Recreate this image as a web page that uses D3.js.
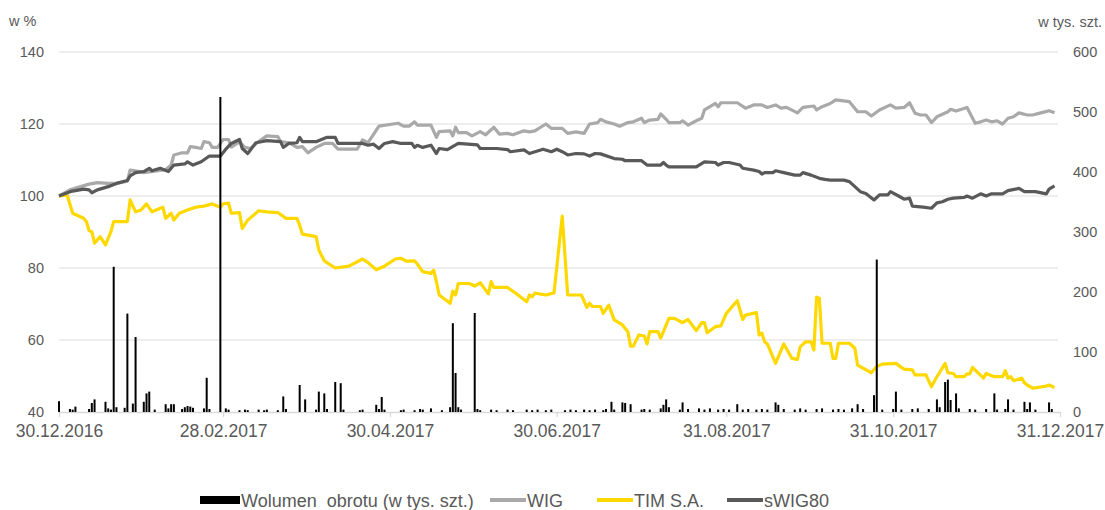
<!DOCTYPE html>
<html><head><meta charset="utf-8">
<script src="https://cdn.jsdelivr.net/npm/d3@7"></script>
<style>
html,body{margin:0;padding:0;background:#fff;}
text{font-family:"Liberation Sans",Arial,sans-serif;fill:#595959;}
</style></head>
<body><svg id="c" width="1105" height="510"></svg>
<script>
const leftTicks = [40,60,80,100,120,140];
const rightTicks = [0,100,200,300,400,500,600];
const xTickLabels = ["30.12.2016","28.02.2017","30.04.2017","30.06.2017","31.08.2017","31.10.2017","31.12.2017"];
const seriesNames = ["Wolumen  obrotu (w tys. szt.)","WIG","TIM S.A.","sWIG80"];

const timData = [["2016-12-30",100],["2017-01-02",100.2],["2017-01-04",95.2],["2017-01-08",93.8],["2017-01-09",92.9],["2017-01-10",90.4],["2017-01-11",90.1],["2017-01-12",86.9],["2017-01-14",88.7],["2017-01-16",86.4],["2017-01-18",90.1],["2017-01-19",92.9],["2017-01-24",92.9],["2017-01-25",98.9],["2017-01-27",95.6],["2017-01-29",96.1],["2017-01-31",97.8],["2017-02-02",95.6],["2017-02-06",96.9],["2017-02-07",93.8],["2017-02-09",95.2],["2017-02-10",93.3],["2017-02-12",95.2],["2017-02-15",96.1],["2017-02-18",96.9],["2017-02-21",97.2],["2017-02-24",97.8],["2017-02-27",96.9],["2017-02-28",97.8],["2017-03-02",98.0],["2017-03-03",95.2],["2017-03-06",95.4],["2017-03-07",91.0],["2017-03-09",93.3],["2017-03-13",95.9],["2017-03-16",95.6],["2017-03-20",95.4],["2017-03-23",93.8],["2017-03-27",93.8],["2017-03-28",91.9],["2017-03-29",89.4],["2017-04-03",88.7],["2017-04-04",85.0],["2017-04-06",82.0],["2017-04-10",80.0],["2017-04-15",80.5],["2017-04-20",82.5],["2017-04-22",81.5],["2017-04-25",79.5],["2017-04-28",80.5],["2017-05-02",82.5],["2017-05-04",82.7],["2017-05-06",81.9],["2017-05-09",82.0],["2017-05-10",81.1],["2017-05-12",79.0],["2017-05-15",78.5],["2017-05-16",79.4],["2017-05-17",76.2],["2017-05-18",72.5],["2017-05-22",70.2],["2017-05-23",73.6],["2017-05-24",72.5],["2017-05-25",75.7],["2017-05-29",75.7],["2017-05-31",75.0],["2017-06-02",75.9],["2017-06-05",72.8],["2017-06-06",76.2],["2017-06-07",74.6],["2017-06-12",74.6],["2017-06-15",73.0],["2017-06-19",70.6],["2017-06-20",72.5],["2017-06-21",72.0],["2017-06-22",73.0],["2017-06-26",72.5],["2017-06-29",73.1],["2017-07-02",94.4],["2017-07-04",72.5],["2017-07-09",72.5],["2017-07-11",69.1],["2017-07-12",70.2],["2017-07-13",69.3],["2017-07-16",69.3],["2017-07-17",67.4],["2017-07-19",69.7],["2017-07-21",65.6],["2017-07-24",64.2],["2017-07-26",62.3],["2017-07-27",58.3],["2017-07-28",58.3],["2017-07-30",61.4],["2017-08-01",61.1],["2017-08-02",58.9],["2017-08-03",62.3],["2017-08-06",62.3],["2017-08-07",60.5],["2017-08-10",66.0],["2017-08-12",66.0],["2017-08-15",64.8],["2017-08-17",65.7],["2017-08-20",62.6],["2017-08-22",64.8],["2017-08-23",64.8],["2017-08-24",62.0],["2017-08-27",63.7],["2017-08-29",63.9],["2017-08-31",67.4],["2017-09-04",70.9],["2017-09-06",65.7],["2017-09-07",66.9],["2017-09-11",67.6],["2017-09-12",61.4],["2017-09-13",61.9],["2017-09-14",59.5],["2017-09-15",58.9],["2017-09-18",53.5],["2017-09-21",58.9],["2017-09-24",54.9],["2017-09-26",54.6],["2017-09-27",58.1],["2017-09-29",59.5],["2017-10-01",59.5],["2017-10-02",57.2],["2017-10-03",71.9],["2017-10-04",71.6],["2017-10-05",59.1],["2017-10-08",59.1],["2017-10-09",54.9],["2017-10-10",54.9],["2017-10-11",59.1],["2017-10-15",59.1],["2017-10-17",57.7],["2017-10-18",53.0],["2017-10-23",50.9],["2017-10-25",52.6],["2017-10-27",53.3],["2017-11-01",53.5],["2017-11-03",52.4],["2017-11-04",51.9],["2017-11-07",51.7],["2017-11-08",50.3],["2017-11-12",50.3],["2017-11-14",47.0],["2017-11-16",49.8],["2017-11-19",53.5],["2017-11-20",50.9],["2017-11-22",50.7],["2017-11-23",49.8],["2017-11-26",49.8],["2017-11-27",50.6],["2017-11-28",50.6],["2017-11-29",52.4],["2017-12-03",49.4],["2017-12-04",50.7],["2017-12-07",49.8],["2017-12-10",49.8],["2017-12-11",51.5],["2017-12-12",49.4],["2017-12-13",49.8],["2017-12-14",48.7],["2017-12-17",49.4],["2017-12-18",48.1],["2017-12-19",47.5],["2017-12-21",46.6],["2017-12-26",47.2],["2017-12-27",47.5],["2017-12-29",46.8]];

const wigData = [["2016-12-30",100],["2017-01-03",101.7],["2017-01-10",103.3],["2017-01-13",103.7],["2017-01-17",103.5],["2017-01-20",103.5],["2017-01-24",104.1],["2017-01-25",107.2],["2017-01-27",107.0],["2017-01-30",106.5],["2017-02-07",107.3],["2017-02-09",108.6],["2017-02-10",111.4],["2017-02-13",112.0],["2017-02-15",112.0],["2017-02-16",113.7],["2017-02-18",113.5],["2017-02-20",113.2],["2017-02-21",115.1],["2017-02-23",114.8],["2017-02-24",113.5],["2017-02-26",113.5],["2017-02-28",115.7],["2017-03-02",115.7],["2017-03-03",113.6],["2017-03-06",115.0],["2017-03-08",113.5],["2017-03-10",113.2],["2017-03-13",115.1],["2017-03-16",116.7],["2017-03-20",116.5],["2017-03-21",115.1],["2017-03-24",114.8],["2017-03-27",113.5],["2017-03-29",113.7],["2017-03-31",112.0],["2017-04-03",113.5],["2017-04-06",114.6],["2017-04-09",114.6],["2017-04-11",113.0],["2017-04-18",113.0],["2017-04-20",115.6],["2017-04-22",114.8],["2017-04-26",119.4],["2017-05-03",120.2],["2017-05-05",119.4],["2017-05-07",119.4],["2017-05-09",120.6],["2017-05-10",119.7],["2017-05-15",119.7],["2017-05-17",116.3],["2017-05-18",117.9],["2017-05-22",118.1],["2017-05-23",116.7],["2017-05-24",119.1],["2017-05-25",117.6],["2017-05-28",117.6],["2017-05-30",116.7],["2017-06-02",117.9],["2017-06-04",117.0],["2017-06-07",119.1],["2017-06-09",117.2],["2017-06-12",117.4],["2017-06-14",117.0],["2017-06-18",118.1],["2017-06-20",117.8],["2017-06-22",118.1],["2017-06-26",120.0],["2017-06-28",118.8],["2017-07-02",118.8],["2017-07-04",117.4],["2017-07-07",117.8],["2017-07-10",117.4],["2017-07-12",120.0],["2017-07-15",120.4],["2017-07-16",121.3],["2017-07-18",120.6],["2017-07-21",120.0],["2017-07-23",119.4],["2017-07-26",120.4],["2017-07-28",120.6],["2017-07-31",121.6],["2017-08-01",120.4],["2017-08-03",121.1],["2017-08-06",121.3],["2017-08-07",122.8],["2017-08-09",121.3],["2017-08-10",120.4],["2017-08-14",120.4],["2017-08-15",120.9],["2017-08-17",119.7],["2017-08-20",120.9],["2017-08-22",121.6],["2017-08-23",123.9],["2017-08-27",125.7],["2017-08-28",124.8],["2017-08-29",125.9],["2017-09-04",125.9],["2017-09-07",124.4],["2017-09-10",125.3],["2017-09-13",125.3],["2017-09-15",124.6],["2017-09-18",125.3],["2017-09-20",124.4],["2017-09-22",124.6],["2017-09-26",123.1],["2017-09-28",124.6],["2017-10-02",125.0],["2017-10-03",123.9],["2017-10-05",124.8],["2017-10-08",125.7],["2017-10-10",126.7],["2017-10-15",126.2],["2017-10-18",123.4],["2017-10-21",123.4],["2017-10-23",122.2],["2017-10-26",123.9],["2017-10-30",125.3],["2017-11-01",124.4],["2017-11-04",124.6],["2017-11-06",125.9],["2017-11-08",123.0],["2017-11-10",122.5],["2017-11-12",122.5],["2017-11-14",120.4],["2017-11-16",122.0],["2017-11-20",123.4],["2017-11-21",124.1],["2017-11-23",123.6],["2017-11-27",124.6],["2017-11-30",120.2],["2017-12-02",120.6],["2017-12-04",121.1],["2017-12-06",120.6],["2017-12-08",120.9],["2017-12-10",120.0],["2017-12-12",121.6],["2017-12-14",122.0],["2017-12-16",123.1],["2017-12-19",122.5],["2017-12-21",122.5],["2017-12-24",123.1],["2017-12-27",123.7],["2017-12-29",123.1]];

const swigData = [["2016-12-30",100],["2017-01-03",101.2],["2017-01-08",101.9],["2017-01-10",101.7],["2017-01-11",100.9],["2017-01-13",101.7],["2017-01-17",102.6],["2017-01-20",103.5],["2017-01-24",104.3],["2017-01-25",105.6],["2017-01-27",106.5],["2017-01-30",106.8],["2017-02-01",107.7],["2017-02-02",107.0],["2017-02-05",107.7],["2017-02-08",106.8],["2017-02-10",108.6],["2017-02-14",108.9],["2017-02-15",109.5],["2017-02-17",108.6],["2017-02-20",109.5],["2017-02-23",111.1],["2017-02-27",111.1],["2017-03-01",113.0],["2017-03-03",114.6],["2017-03-06",115.7],["2017-03-07",113.2],["2017-03-09",111.8],["2017-03-12",114.8],["2017-03-16",115.4],["2017-03-21",115.1],["2017-03-22",113.5],["2017-03-24",114.6],["2017-03-27",114.8],["2017-03-28",116.3],["2017-03-29",115.1],["2017-04-03",115.1],["2017-04-07",116.3],["2017-04-10",116.3],["2017-04-11",114.6],["2017-04-20",114.6],["2017-04-22",114.1],["2017-04-24",114.4],["2017-04-26",113.2],["2017-04-28",114.6],["2017-05-01",115.1],["2017-05-04",114.6],["2017-05-08",114.6],["2017-05-09",113.5],["2017-05-10",114.1],["2017-05-12",113.5],["2017-05-15",114.1],["2017-05-17",111.8],["2017-05-18",113.2],["2017-05-21",112.9],["2017-05-25",114.6],["2017-06-01",114.2],["2017-06-02",113.2],["2017-06-08",113.2],["2017-06-12",112.9],["2017-06-13",112.3],["2017-06-18",112.8],["2017-06-20",111.8],["2017-06-25",113.0],["2017-06-28",112.3],["2017-06-30",113.0],["2017-07-02",112.3],["2017-07-04",111.4],["2017-07-07",111.8],["2017-07-10",111.7],["2017-07-12",111.1],["2017-07-14",111.8],["2017-07-16",111.7],["2017-07-21",110.4],["2017-07-24",110.2],["2017-07-25",109.8],["2017-07-28",109.8],["2017-07-31",109.8],["2017-08-02",108.6],["2017-08-07",108.6],["2017-08-08",109.3],["2017-08-09",108.6],["2017-08-10",108.1],["2017-08-20",108.1],["2017-08-23",109.5],["2017-08-27",109.3],["2017-08-28",108.6],["2017-08-30",109.3],["2017-09-01",109.3],["2017-09-05",108.6],["2017-09-06",107.7],["2017-09-10",107.2],["2017-09-12",106.8],["2017-09-13",106.1],["2017-09-14",106.5],["2017-09-17",106.5],["2017-09-18",107.0],["2017-09-21",106.5],["2017-09-25",105.8],["2017-09-27",105.8],["2017-09-28",106.5],["2017-10-01",105.8],["2017-10-04",104.9],["2017-10-06",104.6],["2017-10-08",104.4],["2017-10-13",104.4],["2017-10-15",104.0],["2017-10-17",102.6],["2017-10-19",101.2],["2017-10-21",100.7],["2017-10-24",98.9],["2017-10-26",100.3],["2017-10-29",100.3],["2017-10-30",101.2],["2017-11-02",100.0],["2017-11-04",99.1],["2017-11-06",99.4],["2017-11-07",97.2],["2017-11-11",96.9],["2017-11-14",96.6],["2017-11-16",98.1],["2017-11-18",98.4],["2017-11-20",99.1],["2017-11-22",99.4],["2017-11-26",99.6],["2017-11-27",100.0],["2017-11-29",99.4],["2017-12-02",100.6],["2017-12-04",100.0],["2017-12-06",100.6],["2017-12-10",100.6],["2017-12-12",101.5],["2017-12-16",102.1],["2017-12-18",101.2],["2017-12-22",101.2],["2017-12-26",100.6],["2017-12-27",101.9],["2017-12-29",102.8]];

const volumeData = [["2016-12-30",18],["2017-01-03",5],["2017-01-04",4],["2017-01-05",9],["2017-01-10",5],["2017-01-11",15],["2017-01-12",21],["2017-01-16",17],["2017-01-17",6],["2017-01-18",4],["2017-01-19",242],["2017-01-20",8],["2017-01-23",7],["2017-01-24",164],["2017-01-26",14],["2017-01-27",125],["2017-01-30",17],["2017-01-31",31],["2017-02-01",34],["2017-02-03",4],["2017-02-07",13],["2017-02-08",6],["2017-02-09",13],["2017-02-10",13],["2017-02-13",5],["2017-02-14",8],["2017-02-15",10],["2017-02-16",9],["2017-02-17",7],["2017-02-21",6],["2017-02-22",57],["2017-02-23",5],["2017-02-27",525],["2017-03-01",6],["2017-03-02",4],["2017-03-06",3],["2017-03-08",4],["2017-03-09",3],["2017-03-13",4],["2017-03-15",3],["2017-03-16",4],["2017-03-20",3],["2017-03-22",26],["2017-03-23",5],["2017-03-28",45],["2017-03-30",21],["2017-04-03",4],["2017-04-04",34],["2017-04-06",31],["2017-04-07",5],["2017-04-10",50],["2017-04-12",48],["2017-04-13",4],["2017-04-19",3],["2017-04-20",4],["2017-04-25",12],["2017-04-26",5],["2017-04-27",25],["2017-04-28",4],["2017-05-04",3],["2017-05-05",4],["2017-05-09",3],["2017-05-11",5],["2017-05-12",4],["2017-05-15",6],["2017-05-19",3],["2017-05-22",8],["2017-05-23",148],["2017-05-24",65],["2017-05-25",8],["2017-05-26",4],["2017-05-31",165],["2017-06-01",5],["2017-06-02",3],["2017-06-06",4],["2017-06-08",3],["2017-06-12",4],["2017-06-14",3],["2017-06-19",4],["2017-06-21",3],["2017-06-23",4],["2017-06-26",3],["2017-06-28",4],["2017-07-03",3],["2017-07-05",4],["2017-07-07",3],["2017-07-10",4],["2017-07-12",3],["2017-07-14",4],["2017-07-17",3],["2017-07-18",5],["2017-07-20",17],["2017-07-21",4],["2017-07-24",16],["2017-07-25",15],["2017-07-27",13],["2017-07-31",4],["2017-08-01",5],["2017-08-03",4],["2017-08-07",6],["2017-08-08",12],["2017-08-09",21],["2017-08-10",8],["2017-08-14",4],["2017-08-15",16],["2017-08-17",5],["2017-08-21",6],["2017-08-23",4],["2017-08-25",6],["2017-08-28",4],["2017-08-30",5],["2017-09-01",4],["2017-09-04",13],["2017-09-06",4],["2017-09-08",5],["2017-09-11",4],["2017-09-13",5],["2017-09-15",4],["2017-09-18",16],["2017-09-19",12],["2017-09-21",5],["2017-09-25",4],["2017-09-27",6],["2017-09-29",4],["2017-10-03",5],["2017-10-05",6],["2017-10-09",4],["2017-10-11",5],["2017-10-13",4],["2017-10-16",6],["2017-10-18",13],["2017-10-20",5],["2017-10-24",28],["2017-10-25",254],["2017-10-27",4],["2017-10-31",5],["2017-11-01",34],["2017-11-03",4],["2017-11-07",5],["2017-11-09",6],["2017-11-13",5],["2017-11-16",21],["2017-11-17",8],["2017-11-19",50],["2017-11-20",54],["2017-11-21",20],["2017-11-23",31],["2017-11-24",6],["2017-11-28",5],["2017-11-30",4],["2017-12-04",5],["2017-12-07",31],["2017-12-08",4],["2017-12-11",5],["2017-12-12",21],["2017-12-14",4],["2017-12-18",17],["2017-12-19",5],["2017-12-20",16],["2017-12-22",4],["2017-12-27",16],["2017-12-28",5]];

const colors = {volume:"#000000", wig:"#A9A9A9", tim:"#FFD800", swig:"#595959"};

const parse = d3.utcParse("%Y-%m-%d");
const parseTick = d3.utcParse("%d.%m.%Y");
const svg = d3.select("#c");

const x = d3.scaleUtc().domain([parseTick("30.12.2016"), parseTick("31.12.2017")]).range([59, 1060]);
const yL = d3.scaleLinear().domain([40,140]).range([412,52]);
const yR = d3.scaleLinear().domain([0,600]).range([412,52]);

// gridlines
svg.append("g").selectAll("line").data(leftTicks.filter(v=>v>40)).join("line")
  .attr("x1",59).attr("x2",1058).attr("y1",d=>yL(d)).attr("y2",d=>yL(d))
  .attr("stroke","#E9E9E9").attr("stroke-width",1.3);

// left axis
const gl = svg.append("g").attr("transform","translate(47,0)")
  .call(d3.axisLeft(yL).tickValues(leftTicks).tickSize(0).tickPadding(3));
gl.select(".domain").remove();
gl.selectAll("text").style("font-size","14.5px").attr("fill","#595959");

// right axis
const gr = svg.append("g").attr("transform","translate(1070,0)")
  .call(d3.axisRight(yR).tickValues(rightTicks).tickSize(0).tickPadding(3));
gr.select(".domain").remove();
gr.selectAll("text").style("font-size","14.5px").attr("fill","#595959");

// x axis
const gx = svg.append("g").attr("transform","translate(0,412)")
  .call(d3.axisBottom(x).tickValues(xTickLabels.map(parseTick)).tickFormat(d3.utcFormat("%d.%m.%Y")).tickSize(5).tickPadding(8).tickSizeOuter(0));
gx.select(".domain").attr("stroke","#D9D9D9").attr("stroke-width",1.3);
gx.selectAll(".tick line").attr("stroke","#D9D9D9").attr("stroke-width",1.3);
gx.selectAll("text").style("font-size","17.5px").attr("fill","#595959");

// axis titles
svg.append("text").attr("x",9).attr("y",26).style("font-size","14.5px").text("w %");
svg.append("text").attr("x",1102).attr("y",27).attr("text-anchor","end").style("font-size","14.5px").text("w tys. szt.");

// lines
const line = d3.line().x(d=>x(parse(d[0]))).y(d=>yL(d[1]));
[[wigData,colors.wig],[timData,colors.tim],[swigData,colors.swig]].forEach(([data,c])=>{
  svg.append("path").datum(data).attr("d",line).attr("fill","none")
    .attr("stroke",c).attr("stroke-width",3.2).attr("stroke-linejoin","round");
});

// volume bars
svg.append("g").selectAll("rect").data(volumeData).join("rect")
  .attr("x",d=>x(parse(d[0]))-1).attr("width",2)
  .attr("y",d=>yR(d[1])).attr("height",d=>412-yR(d[1]))
  .attr("fill",colors.volume);

// legend
const lg = svg.append("g").style("font-size","18px");
lg.append("rect").attr("x",200).attr("y",496).attr("width",40).attr("height",8).attr("fill",colors.volume);
lg.append("text").attr("x",241).attr("y",506.5).attr("xml:space","preserve").text(seriesNames[0]);
const legItems = [[490,seriesNames[1],colors.wig],[597,seriesNames[2],colors.tim],[727,seriesNames[3],colors.swig]];
legItems.forEach(([lx,name,c])=>{
  lg.append("line").attr("x1",lx).attr("x2",lx+36).attr("y1",500).attr("y2",500).attr("stroke",c).attr("stroke-width",4);
  lg.append("text").attr("x",lx+37).attr("y",506.5).text(name);
});
</script></body></html>
